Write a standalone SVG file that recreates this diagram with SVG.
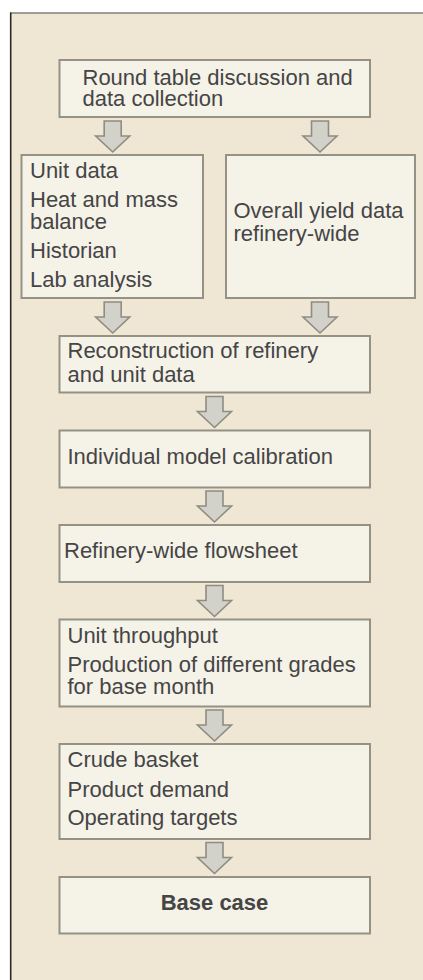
<svg xmlns="http://www.w3.org/2000/svg" xmlns:xlink="http://www.w3.org/1999/xlink" width="423" height="980" viewBox="0 0 423 980">
<style>
.box{fill:#f5f2e8;stroke:#959185;stroke-width:2}
.t{font-family:"Liberation Sans",Arial,sans-serif;font-size:22px;fill:#454545}
.b{font-weight:bold;text-anchor:middle}
.arr{fill:#d2d1ca;stroke:#8f8c81;stroke-width:1.6;stroke-linejoin:miter}
</style>
<defs>
<path id="arrow" class="arr" d="M-8.5,0 H8.5 V15 H17 L0,31 L-17,15 H-8.5 Z"/>
</defs>
<rect x="0" y="0" width="423" height="980" fill="#ffffff"/>
<rect x="10.5" y="13" width="412.5" height="967" fill="#efe6d3"/>
<line x1="10" y1="13" x2="423" y2="13" stroke="#808080" stroke-width="1.6"/>
<line x1="10.7" y1="12.5" x2="10.7" y2="980" stroke="#2a2a2a" stroke-width="1.6"/>

<g id="n-roundtable">
<rect class="box" x="59.5" y="60" width="310.5" height="57"/>
<text class="t" x="82.5" y="84.5">Round table discussion and</text>
<text class="t" x="82.5" y="106">data collection</text>
</g>
<g id="n-unitdata">
<rect class="box" x="21.5" y="155" width="181.5" height="143"/>
<text class="t" x="30" y="177.5">Unit data</text>
<text class="t" x="30" y="206.5">Heat and mass</text>
<text class="t" x="30" y="229">balance</text>
<text class="t" x="30" y="258">Historian</text>
<text class="t" x="30" y="286.5">Lab analysis</text>
</g>
<g id="n-overall">
<rect class="box" x="226" y="155" width="189" height="143"/>
<text class="t" x="233.5" y="218">Overall yield data</text>
<text class="t" x="233.5" y="240.5">refinery-wide</text>
</g>
<g id="n-recon">
<rect class="box" x="59.5" y="336" width="310.5" height="56.5"/>
<text class="t" x="67.5" y="358">Reconstruction of refinery</text>
<text class="t" x="67.5" y="381.5">and unit data</text>
</g>
<g id="n-calib">
<rect class="box" x="59.5" y="430.5" width="310.5" height="57"/>
<text class="t" x="67.5" y="464">Individual model calibration</text>
</g>
<g id="n-flowsheet">
<rect class="box" x="59.5" y="525" width="310.5" height="57"/>
<text class="t" x="64" y="558">Refinery-wide flowsheet</text>
</g>
<g id="n-throughput">
<rect class="box" x="59.5" y="619.5" width="310.5" height="87"/>
<text class="t" x="67.5" y="642.5">Unit throughput</text>
<text class="t" x="67.5" y="671.5">Production of different grades</text>
<text class="t" x="67.5" y="694">for base month</text>
</g>
<g id="n-crude">
<rect class="box" x="59.5" y="744" width="310.5" height="95"/>
<text class="t" x="67.5" y="767">Crude basket</text>
<text class="t" x="67.5" y="796.5">Product demand</text>
<text class="t" x="67.5" y="825">Operating targets</text>
</g>
<g id="n-base">
<rect class="box" x="59.5" y="877" width="310.5" height="56.5"/>
<text class="t b" x="214.5" y="910">Base case</text>
</g>

<g id="connectors">
<use xlink:href="#arrow" href="#arrow" transform="translate(112.7,121)"/>
<use xlink:href="#arrow" href="#arrow" transform="translate(320,121)"/>
<use xlink:href="#arrow" href="#arrow" transform="translate(112.7,302)"/>
<use xlink:href="#arrow" href="#arrow" transform="translate(320,302)"/>
<use xlink:href="#arrow" href="#arrow" transform="translate(214.5,396.5)"/>
<use xlink:href="#arrow" href="#arrow" transform="translate(214.5,491)"/>
<use xlink:href="#arrow" href="#arrow" transform="translate(214.5,585.5)"/>
<use xlink:href="#arrow" href="#arrow" transform="translate(214.5,710)"/>
<use xlink:href="#arrow" href="#arrow" transform="translate(214.5,842.5)"/>
</g>
</svg>
